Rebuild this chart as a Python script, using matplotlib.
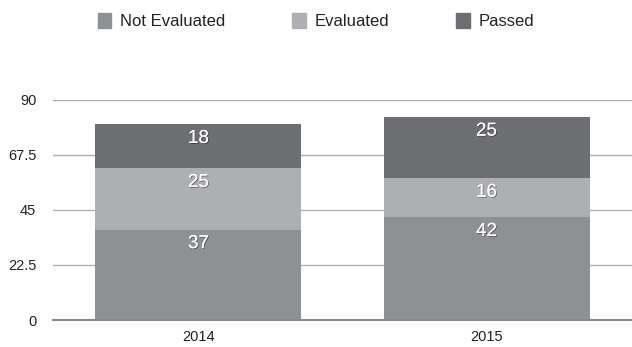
import matplotlib
matplotlib.use("Agg")
import matplotlib.pyplot as plt
import matplotlib.patheffects as pe
from matplotlib.patches import Patch
import numpy as np

plt.rcParams['font.family'] = ['Liberation Sans', 'DejaVu Sans']

years = ['2014', '2015']
not_evaluated = [37, 42]
evaluated = [25, 16]
passed = [18, 25]
yticks = [0, 22.5, 45, 67.5, 90]

series = [('Not Evaluated', not_evaluated, '#8e9094'),
          ('Evaluated', evaluated, '#aeafb2'),
          ('Passed', passed, '#6d6e71')]

fig = plt.figure(figsize=(6.32, 3.47), dpi=100)
ax = fig.add_axes([53/632, 1 - 320/347, 579/632, 220/347])

x = np.arange(len(years))
bottom = np.zeros(len(years))
shadow = [pe.withSimplePatchShadow(offset=(0.6, -0.6), shadow_rgbFace='black', alpha=0.45), pe.Normal()]
for name, vals, col in series:
    ax.bar(x, vals, 0.715, bottom=bottom, color=col, zorder=3, label=name)
    for xi, b, v in zip(x, bottom, vals):
        ax.annotate(str(v), (xi, b + v), xytext=(0, -4), textcoords='offset points',
                    ha='center', va='top', color='white', fontsize=13.5,
                    path_effects=shadow, zorder=4)
    bottom += np.array(vals)

ax.set_xlim(-0.505, 1.505)
ax.set_ylim(0, 90)
ax.set_yticks(yticks)
ax.set_yticklabels(['0', '22.5', '45', '67.5', '90'])
ax.set_xticks(x)
ax.set_xticklabels(years)
ax.tick_params(length=0, labelsize=10.5, labelcolor='#222222')
ax.tick_params(axis='y', pad=12)
ax.tick_params(axis='x', pad=7)
ax.yaxis.grid(True, color='#b0b0b0', linewidth=1, zorder=0)
for s in ['top', 'right', 'left']:
    ax.spines[s].set_visible(False)
ax.spines['bottom'].set_color('#888888')
ax.spines['bottom'].set_linewidth(1.5)
ax.spines['bottom'].set_zorder(5)

handles = [Patch(color=c, label=n) for n, _, c in series]
fig.legend(handles=handles, loc='center left', bbox_to_anchor=(98/632, 1 - 21/347),
           ncol=3, frameon=False, fontsize=12, handlelength=0.8, handleheight=1.0,
           handletextpad=0.55, columnspacing=4.0, labelcolor='#222222',
           borderpad=0, borderaxespad=0)

fig.savefig('out.png', dpi=100)
